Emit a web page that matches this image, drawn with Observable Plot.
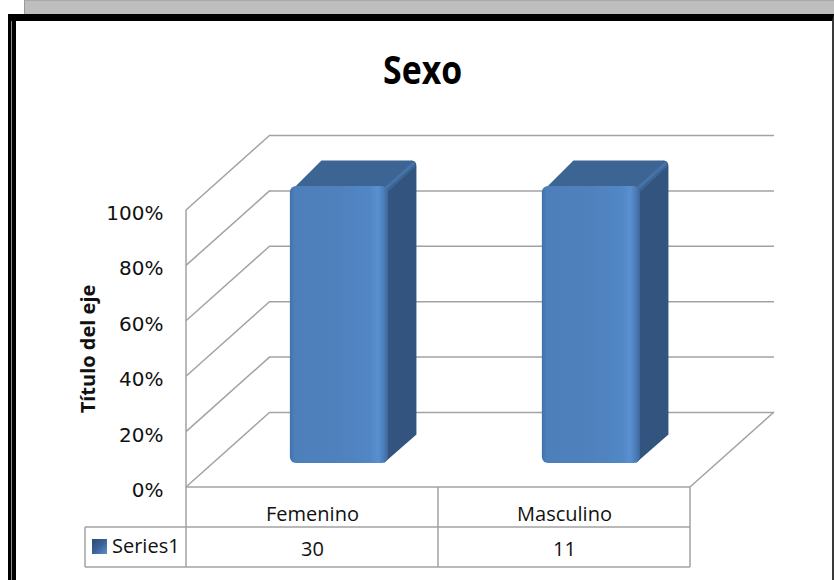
<!DOCTYPE html>
<html>
<head>
<meta charset="utf-8">
<script src="https://cdn.jsdelivr.net/npm/d3@7"></script>
<script src="https://cdn.jsdelivr.net/npm/@observablehq/plot@0.6"></script>
<style>
  body { margin: 0; background: #fff; }
  #wrap { position: relative; width: 834px; height: 580px; overflow: hidden; font-family: "Open Sans", sans-serif; }
  #greybar { position: absolute; left: 24px; top: 0; width: 820px; height: 14px; background: #bebebe; border-top: 1px solid #a9a9a9; border-left: 1px solid #9a9a9a; box-sizing: border-box; }
  #frame { position: absolute; left: 8px; top: 14px; width: 826px; height: 600px; border-left: 8px solid #000; border-top: 7px solid #000; border-right: 2px solid #3a3a3a; box-sizing: border-box; }
  #frameline { position: absolute; left: 11px; top: 21px; width: 1px; height: 600px; background: #8a8a8a; }
  #chart { position: absolute; left: 0; top: 0; }
  #title { position: absolute; left: 0; top: 49px; width: 846px; text-align: center; }
  #title span { display: inline-block; font-family: "Open Sans", sans-serif; font-weight: bold; font-size: 39px; line-height: 40px; color: #000; transform-origin: 50% 50%; }
</style>
</head>
<body>
<div id="wrap">
  <div id="greybar"></div>
  <div id="frame"></div>
  <div id="frameline"></div>
  <div id="chart"></div>
  <div id="title"><span></span></div>
</div>
<script>
// ---- data ----
const chartTitle = "Sexo";
const yTitle = "Título del eje";
const seriesName = "Series1";
const categories = ["Femenino", "Masculino"];
const counts = [30, 11];
const yTicks = [0, 0.2, 0.4, 0.6, 0.8, 1];

// 100% stacked column with a single series: each column's share of its own total
const totals = categories.map((c, i) => counts[i]);
const shares = counts.map((v, i) => v / totals[i]);
const data = categories.map((c, i) => ({cat: c, count: counts[i], share: shares[i]}));

// ---- layout / style ----
const W = 834, H = 580;
const L = 186, R = 690, T = 210, B = 487;
const DX = 84, DY = -75;          // full depth of the 3D box, in pixels
const F0 = 0.32, F1 = 0.66;       // bar front/back depth fractions
const GRID = "#a2a2a2";
const ROW = 40;
const TITLE_WIDTH = 79;

const titleSpan = document.querySelector("#title span");
titleSpan.textContent = chartTitle;

const defsMark = () => {
  const g = d3.create("svg:g");
  const defs = g.append("defs");
  const fg = defs.append("linearGradient").attr("id", "frontGrad").attr("x1", 0).attr("x2", 1).attr("y1", 0).attr("y2", 0);
  [[0, "#4272ab"], [0.05, "#4d7fbb"], [0.5, "#4f81bd"], [0.82, "#5187c5"], [0.9, "#5a90d0"], [0.95, "#4d7fbb"], [1, "#3f6aa0"]]
    .forEach(([o, c]) => fg.append("stop").attr("offset", o).attr("stop-color", c));
  const kg = defs.append("linearGradient").attr("id", "keyGrad").attr("x1", 0).attr("x2", 1).attr("y1", 0).attr("y2", 1);
  [[0, "#2c4a73"], [0.5, "#3b6296"], [1, "#5b8fd0"]]
    .forEach(([o, c]) => kg.append("stop").attr("offset", o).attr("stop-color", c));
  return g.node();
};

const wallMark = (index, {x, y}, values, dim) => {
  const g = d3.create("svg:g").attr("stroke", GRID).attr("stroke-width", 1.5).attr("fill", "none");
  const l = dim.marginLeft, r = dim.width - dim.marginRight, y0 = y(0);
  for (const t of yTicks) {
    g.append("line").attr("x1", l).attr("y1", y(t)).attr("x2", l + DX).attr("y2", y(t) + DY);
  }
  g.append("line").attr("x1", l).attr("y1", y(1)).attr("x2", l).attr("y2", y0);
  g.append("line").attr("x1", r).attr("y1", y0).attr("x2", r + DX).attr("y2", y0 + DY);
  return g.node();
};

const P = (a, b) => `${a} ${b}`;

const barSideMark = (index, {x, y}, values, dim) => {
  const g = d3.create("svg:g");
  const bw = x.bandwidth();
  const ox = DX * F0, oy = DY * F0, ddx = DX * (F1 - F0), ddy = DY * (F1 - F0);
  for (const d of data) {
    const xl = x(d.cat) + ox, xr = xl + bw;
    const yt = y(d.share) + oy, yb = y(0) + oy;
    const bx = xr + ddx, by = yt + ddy;
    // side face
    g.append("path").attr("fill", "#32547e")
      .attr("d", `M ${P(xr - 6, yt)} L ${P(bx - 5, by)} Q ${P(bx, by)} ${P(bx, by + 6)} L ${P(bx, yb + ddy - 3)} L ${P(xr - 4, yb)} Z`);
    // top face
    g.append("path").attr("fill", "#3c6593")
      .attr("d", `M ${P(xl + 3, yt + 3)} L ${P(xl + ddx + 3, by)} L ${P(bx - 6, by)} Q ${P(bx, by)} ${P(bx - 1, by + 6)} L ${P(xr, yt + 6)} Z`);
    // rounded back-edge highlight
    g.append("path").attr("fill", "none").attr("stroke", "#4673aa").attr("stroke-width", 3).attr("stroke-linecap", "round")
      .attr("d", `M ${P(xr - 3, yt + 3)} L ${P(bx - 3, by + 3)}`);
  }
  return g.node();
};

const tableMark = (index, {x, y}, values, dim) => {
  const g = d3.create("svg:g");
  const lines = g.append("g").attr("stroke", GRID).attr("stroke-width", 1.5).attr("fill", "none");
  const l = dim.marginLeft, r = dim.width - dim.marginRight, y0 = y(0);
  const step = x.step(), bw = x.bandwidth();
  const edges = [l, ...categories.slice(1).map(c => x(c) - (step - bw) / 2), r];
  const legendLeft = l - 101;
  lines.append("line").attr("x1", l).attr("x2", r).attr("y1", y0).attr("y2", y0);
  lines.append("line").attr("x1", legendLeft).attr("x2", r).attr("y1", y0 + ROW).attr("y2", y0 + ROW);
  lines.append("line").attr("x1", legendLeft).attr("x2", r).attr("y1", y0 + 2 * ROW).attr("y2", y0 + 2 * ROW);
  lines.append("line").attr("x1", legendLeft).attr("x2", legendLeft).attr("y1", y0 + ROW).attr("y2", y0 + 2 * ROW);
  for (const e of edges) lines.append("line").attr("x1", e).attr("x2", e).attr("y1", y0).attr("y2", y0 + 2 * ROW);
  g.append("rect").attr("x", legendLeft + 7).attr("y", y0 + ROW + 12).attr("width", 15).attr("height", 15).attr("fill", "url(#keyGrad)");
  g.append("text").attr("x", legendLeft + 27).attr("y", y0 + ROW + 20).attr("dy", "0.32em")
    .attr("text-anchor", "start").attr("font-size", 20).attr("fill", "#111").text(seriesName);
  return g.node();
};

const plot = Plot.plot({
  width: W, height: H,
  marginLeft: L, marginRight: W - R, marginTop: T, marginBottom: H - B,
  style: {background: "transparent", fontFamily: "'Open Sans', sans-serif", fontSize: "20px", color: "#111"},
  x: {type: "band", domain: categories, paddingInner: 0.61, paddingOuter: 0.305, axis: null},
  y: {domain: [0, 1], axis: null},
  marks: [
    defsMark,
    Plot.ruleY(yTicks, {dx: DX, dy: DY, stroke: GRID, strokeWidth: 1.5}),
    wallMark,
    barSideMark,
    Plot.barY(data, {x: "cat", y: "share", dx: DX * F0, dy: DY * F0, fill: "url(#frontGrad)", rx: 6}),
    Plot.axisY(yTicks, {tickFormat: d3.format(".0%"), tickSize: 0, tickPadding: 23, dy: 3, fontSize: 20, fontFamily: "'DejaVu Sans', sans-serif", fill: "#111", label: null}),
    Plot.text([yTitle], {frameAnchor: "left", textAnchor: "middle", dx: -98, rotate: -90, fontWeight: "bold", fontSize: 20, fill: "#111"}),
    Plot.axisX(categories, {tickSize: 0, tickPadding: 19, fontSize: 20, fill: "#111", label: null}),
    tableMark,
    Plot.text(data, {x: "cat", y: 0, dy: 2 * ROW - 18, text: d => String(d.count), fontSize: 20, fill: "#111"})
  ]
});
document.getElementById("chart").appendChild(plot);

// fit title to its width in the reference
const tw = titleSpan.getBoundingClientRect().width;
if (tw > 0) titleSpan.style.transform = `scaleX(${TITLE_WIDTH / tw})`;
</script>
</body>
</html>
